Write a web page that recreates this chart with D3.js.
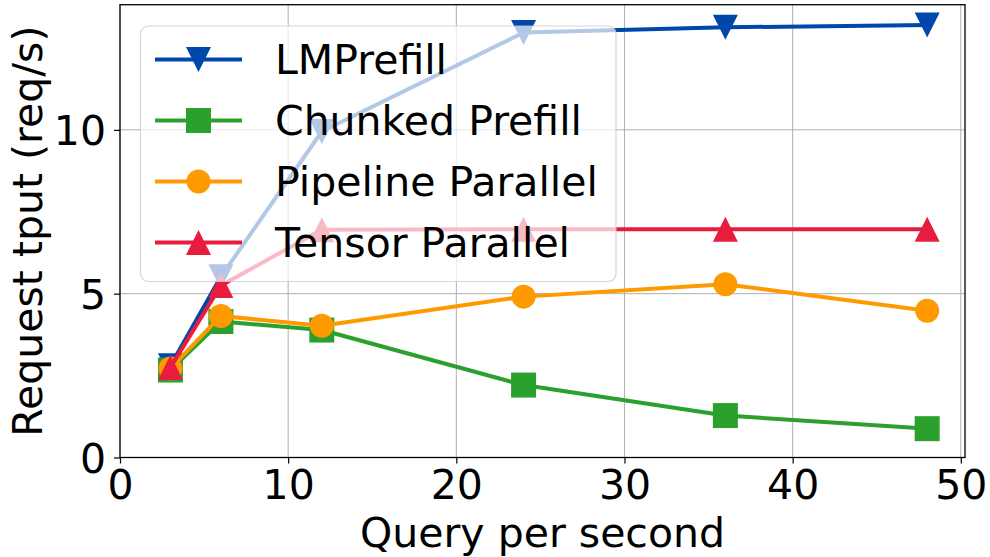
<!DOCTYPE html>
<html>
<head>
<meta charset="utf-8">
<script src="https://cdn.jsdelivr.net/npm/d3@7"></script>
<style>
  body { margin: 0; background: #fff; }
  svg { display: block; }
  text { font-family: "DejaVu Sans", sans-serif; fill: #000; }
</style>
</head>
<body>
<svg id="chart" width="990" height="557"></svg>
<script>
// Request throughput vs. offered load for four prefill strategies
const qps = [3, 6, 12, 24, 36, 48];
const seriesNames = ["LMPrefill", "Chunked Prefill", "Pipeline Parallel", "Tensor Parallel"];
const lmPrefill = [2.8, 5.52, 9.95, 12.97, 13.13, 13.2];
const chunkedPrefill = [2.67, 4.15, 3.89, 2.21, 1.28, 0.88];
const pipelineParallel = [2.72, 4.32, 4.02, 4.91, 5.29, 4.48];
const tensorParallel = [2.75, 5.25, 6.95, 6.97, 6.97, 6.97];
const xTicks = [0, 10, 20, 30, 40, 50];
const yTicks = [0, 5, 10];
const xLabel = "Query per second";
const yLabel = "Request tput (req/s)";

const seriesValues = [lmPrefill, chunkedPrefill, pipelineParallel, tensorParallel];
const seriesColors = ["#0047ab", "#2ca02c", "#ff9900", "#e81c3e"];
const seriesMarkers = ["triDown", "square", "circle", "triUp"];

const svg = d3.select("#chart");
const plot = { left: 120, right: 965, top: 4.7, bottom: 457.5 };
const FONT = 41;
const MS = 25; // marker size in px

const x = d3.scaleLinear().domain([0, 50.25]).range([plot.left, plot.right]);
const y = d3.scaleLinear().domain([0, 13.82]).range([plot.bottom, plot.top]);

// grid
const grid = svg.append("g");
grid.selectAll(".gx").data(xTicks).join("line")
  .attr("x1", d => x(d)).attr("x2", d => x(d))
  .attr("y1", plot.top).attr("y2", plot.bottom)
  .attr("stroke", "#b0b0b0").attr("stroke-width", 1);
grid.selectAll(".gy").data(yTicks).join("line")
  .attr("x1", plot.left).attr("x2", plot.right)
  .attr("y1", d => y(d)).attr("y2", d => y(d))
  .attr("stroke", "#b0b0b0").attr("stroke-width", 1);

function markerPath(type, s) {
  const h = s / 2;
  if (type === "triUp") return `M0,${-h}L${h},${h}L${-h},${h}Z`;
  if (type === "triDown") return `M0,${h}L${h},${-h}L${-h},${-h}Z`;
  if (type === "square") return `M${-h},${-h}H${h}V${h}H${-h}Z`;
  const r = s * 0.48;
  return `M${r},0A${r},${r} 0 1,1 ${-r},0A${r},${r} 0 1,1 ${r},0Z`;
}

const lineGen = d3.line().x(d => x(d[0])).y(d => y(d[1]));

seriesValues.forEach((vals, i) => {
  const pts = qps.map((q, j) => [q, vals[j]]);
  const g = svg.append("g");
  g.append("path").attr("d", lineGen(pts))
    .attr("fill", "none").attr("stroke", seriesColors[i])
    .attr("stroke-width", 4).attr("stroke-linejoin", "round").attr("stroke-linecap", "square");
  g.selectAll("path.m").data(pts).join("path").attr("class", "m")
    .attr("d", markerPath(seriesMarkers[i], MS))
    .attr("transform", d => `translate(${x(d[0])},${y(d[1])})`)
    .attr("fill", seriesColors[i]);
});

// axes
const xAxis = svg.append("g").attr("transform", `translate(0,${plot.bottom})`)
  .call(d3.axisBottom(x).tickValues(xTicks).tickSize(6).tickPadding(6.5).tickSizeOuter(0));
const yAxis = svg.append("g").attr("transform", `translate(${plot.left},0)`)
  .call(d3.axisLeft(y).tickValues(yTicks).tickSize(6).tickPadding(8).tickSizeOuter(0));
[xAxis, yAxis].forEach(a => {
  a.select(".domain").remove();
  a.selectAll("line").attr("stroke", "#000").attr("stroke-width", 1.2);
  a.selectAll("text").attr("font-size", FONT).attr("font-family", "DejaVu Sans");
});
yAxis.selectAll("text").attr("dy", "0.36em");

// spines
svg.append("rect")
  .attr("x", plot.left).attr("y", plot.top)
  .attr("width", plot.right - plot.left).attr("height", plot.bottom - plot.top)
  .attr("fill", "none").attr("stroke", "#000").attr("stroke-width", 1.3);

// axis labels
svg.append("text").attr("x", (plot.left + plot.right) / 2).attr("y", 547)
  .attr("text-anchor", "middle").attr("font-size", FONT).text(xLabel);
svg.append("text")
  .attr("transform", `translate(42,${(plot.top + plot.bottom) / 2}) rotate(-90)`)
  .attr("text-anchor", "middle").attr("font-size", FONT).text(yLabel);

// legend
const lg = svg.append("g");
lg.append("rect").attr("x", 140.5).attr("y", 26).attr("width", 475.5).attr("height", 255.5)
  .attr("rx", 8).attr("fill", "#fff").attr("fill-opacity", 0.7)
  .attr("stroke", "#cccccc").attr("stroke-opacity", 0.8).attr("stroke-width", 1.2);
seriesNames.forEach((name, i) => {
  const cy = 59.5 + i * 61;
  const row = lg.append("g");
  row.append("line").attr("x1", 155).attr("x2", 242).attr("y1", cy).attr("y2", cy)
    .attr("stroke", seriesColors[i]).attr("stroke-width", 4);
  row.append("path").attr("d", markerPath(seriesMarkers[i], MS))
    .attr("transform", `translate(198.5,${cy})`).attr("fill", seriesColors[i]);
  row.append("text").attr("x", 275).attr("y", cy).attr("dy", "0.365em")
    .attr("font-size", FONT).text(name);
});
</script>
</body>
</html>
